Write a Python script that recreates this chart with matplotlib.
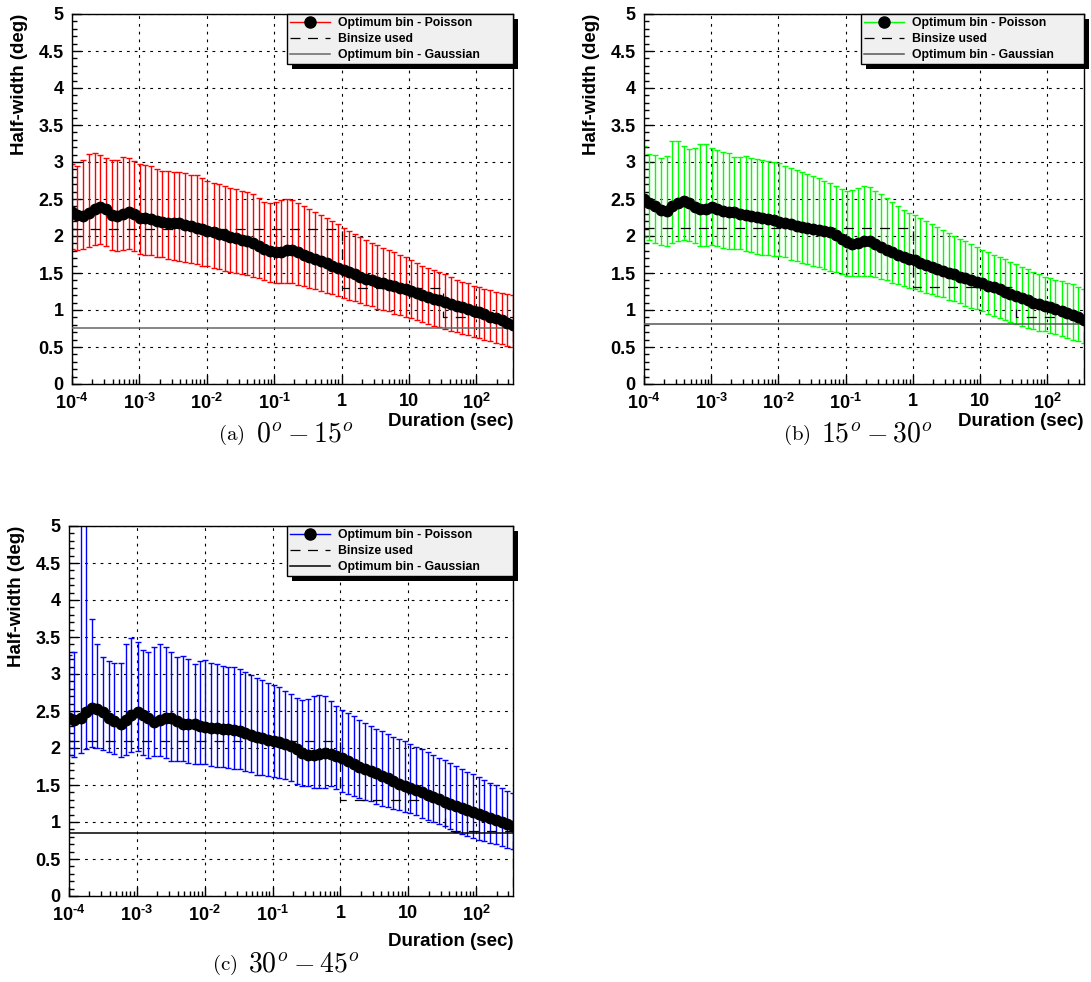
import matplotlib
matplotlib.use('Agg')
import matplotlib.pyplot as plt
import matplotlib.transforms as mtransforms
from matplotlib.lines import Line2D
from matplotlib.patches import Rectangle
from matplotlib.ticker import FixedLocator, LogLocator, MultipleLocator, NullFormatter, FixedFormatter

plt.rcParams['font.family'] = ['Liberation Sans', 'DejaVu Sans']
plt.rcParams['font.weight'] = 'bold'
plt.rcParams['mathtext.fontset'] = 'custom'
plt.rcParams['mathtext.rm'] = 'Liberation Sans:bold'
plt.rcParams['mathtext.bf'] = 'Liberation Sans:bold'
plt.rcParams['mathtext.it'] = 'Liberation Sans:bold'

# log10 of the duration (sec) of each point
log_dur = [-4.00, -3.92, -3.83, -3.75, -3.66, -3.58, -3.50, -3.41, -3.33, -3.24,
           -3.16, -3.08, -2.99, -2.91, -2.83, -2.74, -2.66, -2.57, -2.49, -2.41,
           -2.32, -2.24, -2.15, -2.07, -1.99, -1.90, -1.82, -1.73, -1.65, -1.57,
           -1.48, -1.40, -1.32, -1.23, -1.15, -1.06, -0.98, -0.90, -0.81, -0.73,
           -0.64, -0.56, -0.48, -0.39, -0.31, -0.22, -0.14, -0.06, 0.03, 0.11,
           0.20, 0.28, 0.36, 0.45, 0.53, 0.61, 0.70, 0.78, 0.87, 0.95,
           1.03, 1.12, 1.20, 1.29, 1.37, 1.45, 1.54, 1.62, 1.71, 1.79,
           1.87, 1.96, 2.04, 2.12, 2.21, 2.29, 2.38, 2.46, 2.54]

# (a) 0-15 deg
centre_a = [2.32, 2.28, 2.27, 2.31, 2.37, 2.39, 2.36, 2.29, 2.27, 2.30,
            2.32, 2.30, 2.25, 2.24, 2.23, 2.20, 2.19, 2.18, 2.18, 2.17,
            2.15, 2.13, 2.11, 2.09, 2.07, 2.05, 2.03, 2.01, 1.99, 1.97,
            1.95, 1.93, 1.90, 1.86, 1.82, 1.80, 1.78, 1.78, 1.81, 1.81,
            1.78, 1.75, 1.72, 1.69, 1.66, 1.63, 1.60, 1.57, 1.54, 1.51,
            1.48, 1.45, 1.42, 1.40, 1.38, 1.36, 1.34, 1.32, 1.30, 1.28,
            1.26, 1.23, 1.20, 1.18, 1.15, 1.13, 1.11, 1.08, 1.06, 1.04,
            1.02, 0.99, 0.97, 0.94, 0.91, 0.89, 0.86, 0.83, 0.80]
upper_a = [2.97, 2.95, 3.03, 3.11, 3.12, 3.10, 3.06, 3.03, 3.03, 3.07,
           3.06, 3.01, 2.97, 2.96, 2.95, 2.90, 2.88, 2.88, 2.87, 2.86,
           2.85, 2.83, 2.82, 2.78, 2.75, 2.72, 2.70, 2.67, 2.65, 2.63,
           2.61, 2.59, 2.57, 2.52, 2.46, 2.45, 2.46, 2.48, 2.50, 2.48,
           2.44, 2.41, 2.37, 2.33, 2.29, 2.25, 2.20, 2.16, 2.11, 2.07,
           2.03, 1.99, 1.95, 1.91, 1.88, 1.84, 1.81, 1.78, 1.75, 1.72,
           1.68, 1.64, 1.60, 1.57, 1.54, 1.51, 1.48, 1.45, 1.41, 1.38,
           1.36, 1.33, 1.31, 1.29, 1.27, 1.25, 1.23, 1.22, 1.20]
lower_a = [1.83, 1.81, 1.82, 1.85, 1.88, 1.89, 1.86, 1.81, 1.80, 1.81,
           1.82, 1.80, 1.76, 1.75, 1.74, 1.72, 1.71, 1.69, 1.68, 1.66,
           1.65, 1.63, 1.62, 1.60, 1.59, 1.57, 1.55, 1.53, 1.52, 1.50,
           1.49, 1.47, 1.45, 1.43, 1.41, 1.38, 1.36, 1.36, 1.37, 1.36,
           1.34, 1.32, 1.30, 1.28, 1.26, 1.23, 1.21, 1.19, 1.16, 1.14,
           1.12, 1.09, 1.07, 1.05, 1.02, 1.00, 0.98, 0.95, 0.93, 0.91,
           0.89, 0.86, 0.84, 0.81, 0.79, 0.77, 0.75, 0.72, 0.70, 0.68,
           0.66, 0.64, 0.62, 0.60, 0.58, 0.56, 0.54, 0.52, 0.50]

# (b) 15-30 deg
centre_b = [2.50, 2.45, 2.40, 2.35, 2.34, 2.40, 2.45, 2.47, 2.44, 2.39,
            2.36, 2.37, 2.39, 2.37, 2.34, 2.33, 2.32, 2.30, 2.28, 2.27,
            2.26, 2.24, 2.23, 2.21, 2.19, 2.17, 2.16, 2.14, 2.12, 2.11,
            2.10, 2.08, 2.07, 2.05, 2.01, 1.96, 1.92, 1.89, 1.90, 1.93,
            1.93, 1.89, 1.85, 1.81, 1.78, 1.75, 1.72, 1.69, 1.67, 1.64,
            1.61, 1.58, 1.56, 1.53, 1.50, 1.48, 1.45, 1.43, 1.41, 1.38,
            1.36, 1.33, 1.31, 1.28, 1.25, 1.22, 1.19, 1.16, 1.13, 1.10,
            1.08, 1.06, 1.04, 1.01, 0.98, 0.96, 0.93, 0.90, 0.86]
upper_b = [3.22, 3.11, 3.09, 3.06, 3.08, 3.28, 3.28, 3.22, 3.18, 3.19,
           3.25, 3.25, 3.19, 3.16, 3.14, 3.12, 3.07, 3.07, 3.08, 3.06,
           3.04, 3.03, 3.02, 3.00, 2.99, 2.95, 2.92, 2.89, 2.86, 2.84,
           2.81, 2.78, 2.75, 2.71, 2.67, 2.63, 2.61, 2.62, 2.65, 2.68,
           2.66, 2.61, 2.57, 2.52, 2.46, 2.40, 2.35, 2.31, 2.28, 2.24,
           2.20, 2.16, 2.12, 2.08, 2.04, 2.00, 1.96, 1.93, 1.89, 1.85,
           1.81, 1.78, 1.75, 1.72, 1.69, 1.65, 1.62, 1.58, 1.55, 1.51,
           1.48, 1.45, 1.43, 1.41, 1.39, 1.37, 1.35, 1.31, 1.28]
lower_b = [1.99, 1.95, 1.91, 1.88, 1.86, 1.90, 1.93, 1.95, 1.93, 1.91,
           1.87, 1.87, 1.88, 1.86, 1.84, 1.83, 1.82, 1.82, 1.80, 1.78,
           1.76, 1.75, 1.74, 1.73, 1.73, 1.71, 1.68, 1.66, 1.64, 1.62,
           1.60, 1.58, 1.56, 1.53, 1.51, 1.48, 1.46, 1.46, 1.46, 1.46,
           1.46, 1.44, 1.42, 1.40, 1.37, 1.35, 1.33, 1.30, 1.28, 1.26,
           1.23, 1.21, 1.19, 1.17, 1.14, 1.12, 1.09, 1.06, 1.03, 1.01,
           0.98, 0.95, 0.92, 0.89, 0.86, 0.84, 0.81, 0.79, 0.76, 0.74,
           0.72, 0.71, 0.69, 0.67, 0.65, 0.62, 0.60, 0.58, 0.55]

# (c) 30-45 deg
centre_c = [2.40, 2.38, 2.41, 2.48, 2.54, 2.53, 2.48, 2.41, 2.36, 2.33,
            2.38, 2.45, 2.48, 2.45, 2.40, 2.35, 2.38, 2.41, 2.41, 2.37,
            2.32, 2.33, 2.33, 2.30, 2.28, 2.27, 2.27, 2.26, 2.26, 2.25,
            2.23, 2.20, 2.17, 2.15, 2.13, 2.11, 2.10, 2.08, 2.06, 2.03,
            1.98, 1.93, 1.91, 1.91, 1.92, 1.93, 1.92, 1.89, 1.86, 1.83,
            1.79, 1.75, 1.72, 1.69, 1.66, 1.62, 1.59, 1.56, 1.52, 1.49,
            1.46, 1.43, 1.40, 1.37, 1.34, 1.31, 1.27, 1.24, 1.21, 1.19,
            1.16, 1.13, 1.11, 1.08, 1.05, 1.03, 1.00, 0.97, 0.94]
upper_c = [3.26, 3.30, 6.00, 5.50, 3.74, 3.40, 3.23, 3.17, 3.15, 3.15,
           3.40, 3.48, 3.43, 3.33, 3.30, 3.36, 3.41, 3.36, 3.30, 3.23,
           3.24, 3.20, 3.14, 3.18, 3.19, 3.15, 3.13, 3.11, 3.10, 3.09,
           3.07, 3.03, 2.99, 2.95, 2.92, 2.88, 2.85, 2.82, 2.77, 2.73,
           2.68, 2.65, 2.66, 2.70, 2.72, 2.70, 2.64, 2.57, 2.51, 2.47,
           2.43, 2.38, 2.34, 2.30, 2.26, 2.23, 2.19, 2.15, 2.12, 2.09,
           2.06, 2.02, 1.98, 1.94, 1.91, 1.87, 1.84, 1.80, 1.76, 1.72,
           1.68, 1.65, 1.61, 1.57, 1.53, 1.50, 1.46, 1.42, 1.39]
lower_c = [1.90, 1.88, 1.93, 1.99, 2.01, 2.00, 1.97, 1.95, 1.92, 1.88,
           1.91, 1.94, 1.96, 1.90, 1.87, 1.89, 1.89, 1.87, 1.83, 1.82,
           1.82, 1.80, 1.78, 1.78, 1.78, 1.76, 1.75, 1.75, 1.73, 1.72,
           1.71, 1.69, 1.67, 1.64, 1.63, 1.62, 1.61, 1.60, 1.58, 1.55,
           1.52, 1.49, 1.48, 1.46, 1.46, 1.46, 1.48, 1.45, 1.41, 1.38,
           1.35, 1.33, 1.30, 1.28, 1.25, 1.22, 1.20, 1.18, 1.16, 1.14,
           1.12, 1.09, 1.06, 1.03, 1.00, 0.97, 0.94, 0.90, 0.87, 0.84,
           0.81, 0.79, 0.76, 0.74, 0.72, 0.70, 0.67, 0.65, 0.63]

# binsize used: step edges (sec) and levels (deg)
bin_edges_a = [1e-4, 1.0, 32.0, 350.0]
bin_levels_a = [2.10, 1.30, 0.90]
bin_edges_b = [1e-4, 1.0, 34.0, 350.0]
bin_levels_b = [2.11, 1.31, 0.91]
bin_edges_c = [1e-4, 1.0, 35.0, 350.0]
bin_levels_c = [2.10, 1.30, 0.88]

# optimum bin from the Gaussian
gauss_a = 0.76
gauss_b = 0.81
gauss_c = 0.85

x_ticks = [1e-4, 1e-3, 1e-2, 1e-1, 1, 10, 100]
x_ticklabels = ['$\\mathbf{10^{\u20104}}$', '$\\mathbf{10^{\u20103}}$', '$\\mathbf{10^{\u20102}}$',
                '$\\mathbf{10^{\u20101}}$', '1', '10', '$\\mathbf{10^{2}}$']
y_ticks = [0, 0.5, 1, 1.5, 2, 2.5, 3, 3.5, 4, 4.5, 5]
y_ticklabels = ['0', '0.5', '1', '1.5', '2', '2.5', '3', '3.5', '4', '4.5', '5']

legend_labels = ['Optimum bin - Poisson', 'Binsize used', 'Optimum bin - Gaussian']

W, H = 1091, 982
fig = plt.figure(figsize=(W / 100, H / 100), dpi=100)


def px_axes(left, top, right, bottom):
    return fig.add_axes([left / W, 1 - bottom / H, (right - left) / W, (bottom - top) / H])


def panel(ax, centre, upper, lower, colour, edges, levels, gauss, gauss_colour, leg_x0, xlab_y):
    dur = [10 ** v for v in log_dur]
    err_lo = [c - l for c, l in zip(centre, lower)]
    err_hi = [u - c for c, u in zip(centre, upper)]
    ax.errorbar(dur, centre, yerr=[err_lo, err_hi], fmt='none', ecolor=colour,
                elinewidth=1.0, capsize=2.3, capthick=1.0, zorder=2)
    # binsize step line
    bx = [edges[0]]
    by = [levels[0]]
    for i, lev in enumerate(levels):
        bx += [edges[i], edges[i + 1]]
        by += [lev, lev]
    bx.append(edges[-1])
    by.append(0)
    ax.plot(bx, by, color='black', lw=0.9, ls=(0, (8, 6.5)), zorder=3)
    ax.axhline(gauss, color=gauss_colour, lw=1.1, zorder=3)
    ax.plot(dur, centre, 'o', color='black', ms=7.5, zorder=4)

    ax.set_xscale('log')
    ax.set_xlim(1e-4, 350)
    ax.set_ylim(0, 5)
    ax.xaxis.set_major_locator(FixedLocator(x_ticks))
    ax.xaxis.set_major_formatter(FixedFormatter(x_ticklabels))
    ax.xaxis.set_minor_locator(LogLocator(base=10, subs=range(2, 10), numticks=20))
    ax.xaxis.set_minor_formatter(NullFormatter())
    ax.yaxis.set_major_locator(FixedLocator(y_ticks))
    ax.yaxis.set_major_formatter(FixedFormatter(y_ticklabels))
    ax.yaxis.set_minor_locator(MultipleLocator(0.1))
    ax.tick_params(which='both', direction='in', top=False, right=False, width=1)
    ax.tick_params(which='major', length=6.5, labelsize=13)
    ax.tick_params(which='minor', length=3.5)
    ax.tick_params(axis='y', pad=6)
    ax.tick_params(axis='x', pad=6.5)
    for s in ax.spines.values():
        s.set_linewidth(1.0)
    ax.grid(True, which='major', color='black', lw=0.8, ls=(0, (2.5, 4.5)))

    ax.set_ylabel('Half-width (deg)', loc='top', fontsize=13.5, fontweight='bold')
    ax.yaxis.set_label_coords(-0.10, 1.0)
    ax.set_xlabel('Duration (sec)', loc='right', fontsize=13.5, fontweight='bold')
    ax.xaxis.set_label_coords(1.0, xlab_y)

    handles = [Line2D([], [], color=colour, lw=1.0, marker='o', mfc='black', mec='black', ms=8),
               Line2D([], [], color='black', lw=0.9, ls=(0, (8, 6))),
               Line2D([], [], color=gauss_colour, lw=1.1)]
    leg = ax.legend(handles, legend_labels, loc='upper left',
                    bbox_to_anchor=(leg_x0, 0, 1 - leg_x0, 1), mode='expand', borderaxespad=0,
                    fancybox=False, framealpha=1, facecolor='#f0f0f0', edgecolor='black',
                    prop=dict(family='Liberation Sans', weight='bold', size=8.8),
                    handlelength=3.3, handletextpad=0.65, labelspacing=0.33, borderpad=0.25)
    leg.get_frame().set_linewidth(1.0)
    leg.set_zorder(6)
    return leg


ax_a = px_axes(72, 14, 513, 384)
ax_b = px_axes(644, 14, 1084, 384)
ax_c = px_axes(69, 526, 513, 896)

legs = []
legs.append((ax_a, panel(ax_a, centre_a, upper_a, lower_a, '#ff0000', bin_edges_a, bin_levels_a,
                         gauss_a, '#666666', 0.4875, -0.079)))
legs.append((ax_b, panel(ax_b, centre_b, upper_b, lower_b, '#00ff00', bin_edges_b, bin_levels_b,
                         gauss_b, '#555555', 0.493, -0.079)))
legs.append((ax_c, panel(ax_c, centre_c, upper_c, lower_c, '#0000ff', bin_edges_c, bin_levels_c,
                         gauss_c, '#000000', 0.491, -0.10)))

# subfigure captions: label position, math position, text
captions = [(218, 256, 435, r'$\mathrm{(a)}$', r'$0^o - 15^o$'),
            (783, 821, 435, r'$\mathrm{(b)}$', r'$15^o - 30^o$'),
            (212, 248, 965, r'$\mathrm{(c)}$', r'$30^o - 45^o$')]
for lx, mx, cy, lab, txt in captions:
    fig.text(lx / W, 1 - cy / H, lab, ha='left', va='center', fontsize=15,
             math_fontfamily='cm')
    fig.text(mx / W, 1 - cy / H, txt, ha='left', va='center', fontsize=20,
             math_fontfamily='cm')

# ROOT-style black legend shadow
fig.canvas.draw()
for ax, leg in legs:
    bb = leg.get_window_extent()
    ax.add_patch(Rectangle((bb.x0 + 5, bb.y0 - 5), bb.width, bb.height,
                           transform=mtransforms.IdentityTransform(), facecolor='black',
                           edgecolor='none', zorder=5.5, clip_on=False))

fig.savefig('out.png', dpi=100)
